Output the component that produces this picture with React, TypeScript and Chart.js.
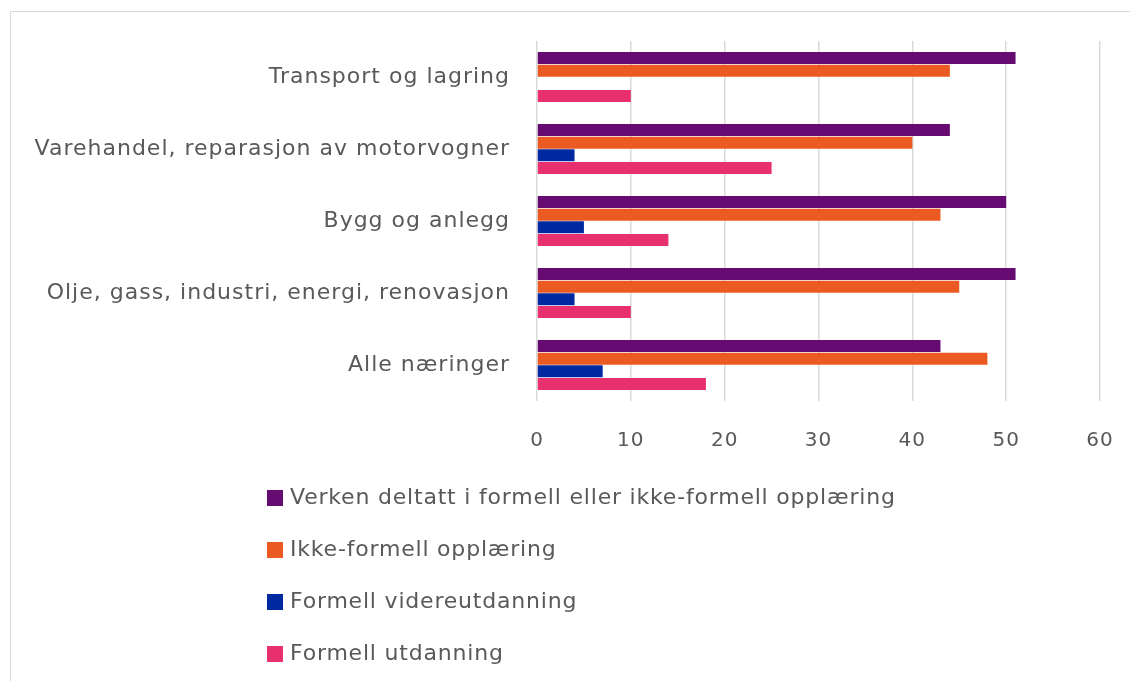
import React, { useEffect, useRef } from "react";
import { Chart, registerables } from "chart.js";

Chart.register(...registerables);

const categories = [
  "Transport og lagring",
  "Varehandel, reparasjon av motorvogner",
  "Bygg og anlegg",
  "Olje, gass, industri, energi, renovasjon",
  "Alle næringer",
];
const seriesNames = [
  "Verken deltatt i formell eller ikke-formell opplæring",
  "Ikke-formell opplæring",
  "Formell videreutdanning",
  "Formell utdanning",
];
const verken = [51, 44, 50, 51, 43];
const ikkeFormell = [44, 40, 43, 45, 48];
const formellVidere = [0, 4, 5, 4, 7];
const formellUtdanning = [10, 25, 14, 10, 18];
const seriesColors = ["#650b72", "#ea5a22", "#0028a0", "#e8306f"];
const xTicks = [0, 10, 20, 30, 40, 50, 60];

const FONT = "'DejaVu Sans', sans-serif";
const TEXT = "#595959";
const FSIZE = 22;

const spacingPlugin = {
  id: "spacing",
  beforeDraw(chart: any) {
    chart.ctx.letterSpacing = "1px";
  },
};

const legendPlugin = {
  id: "vlegend",
  afterDraw(chart: any) {
    const ctx = chart.ctx;
    ctx.save();
    ctx.font = `${FSIZE}px ${FONT}`;
    ctx.letterSpacing = "0.8px";
    ctx.textBaseline = "middle";
    ctx.textAlign = "left";
    chart.data.datasets.forEach((ds: any, i: number) => {
      const cy = 498 + i * 52;
      ctx.fillStyle = ds.backgroundColor;
      ctx.fillRect(267, cy - 8, 16, 16);
      ctx.fillStyle = TEXT;
      ctx.fillText(ds.label, 290, cy);
    });
    ctx.restore();
    ctx.letterSpacing = "0px";
  },
};

export default function App() {
  const ref = useRef<HTMLCanvasElement>(null);
  useEffect(() => {
    const values = [verken, ikkeFormell, formellVidere, formellUtdanning];
    const chart = new Chart(ref.current!, {
      type: "bar",
      data: {
        labels: categories,
        datasets: seriesNames.map((name, i) => ({
          label: name,
          data: values[i],
          backgroundColor: seriesColors[i],
          borderWidth: 0,
          barPercentage: 0.95,
          categoryPercentage: 0.7,
        })),
      },
      options: {
        indexAxis: "y",
        animation: false,
        responsive: false,
        layout: { padding: { top: 41, right: 30, bottom: 220, left: 0 } },
        plugins: { legend: { display: false }, tooltip: { enabled: false } },
        scales: {
          x: {
            min: 0,
            max: 60,
            afterFit: (s: any) => { s.height = 60; s.paddingRight = 0; s.paddingLeft = 0; },
            afterBuildTicks: (s: any) => { s.ticks = xTicks.map((v) => ({ value: v })); },
            grid: { color: "#d9d9d9", lineWidth: 1.5, drawTicks: false },
            border: { display: false },
            ticks: { color: TEXT, font: { family: FONT, size: 20 }, padding: 28 },
          },
          y: {
            afterFit: (s: any) => { s.width = 537; s.paddingTop = 0; s.paddingBottom = 0; },
            grid: { display: false, drawTicks: false },
            border: { display: false },
            ticks: { color: TEXT, font: { family: FONT, size: FSIZE }, padding: 27 },
          },
        },
      },
      plugins: [spacingPlugin, legendPlugin],
    });
    return () => chart.destroy();
  }, []);
  return (
    <div style={{ position: "fixed", left: 0, top: 0, width: 1130, height: 681, background: "#fff", overflow: "hidden" }}>
      <div style={{ position: "absolute", left: 10, top: 11, width: 1200, height: 800, border: "1.5px solid #d9d9d9" }} />
      <canvas ref={ref} width={1130} height={681} style={{ position: "absolute", left: 0, top: 0 }} />
    </div>
  );
}
